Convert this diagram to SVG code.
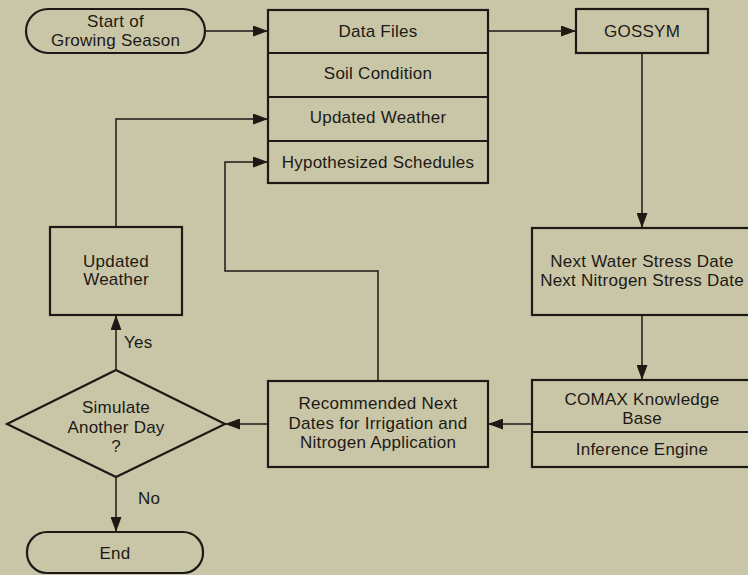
<svg xmlns="http://www.w3.org/2000/svg" width="748" height="575" viewBox="0 0 748 575">
  <style>
    .box { fill: none; stroke: #1d1915; stroke-width: 2.2; }
    .div { stroke: #1d1915; stroke-width: 1.8; }
    .wire { fill: none; stroke: #1d1915; stroke-width: 1.5; }
    text { font-family: "Liberation Sans", Arial, sans-serif; font-size: 17px; letter-spacing: 0.25px; fill: #1d1915; text-anchor: middle; }
    .lbl { text-anchor: start; }
  </style>
  <defs>
    <marker id="arrow" markerUnits="userSpaceOnUse" markerWidth="15" markerHeight="11" viewBox="0 0 15 11" refX="15" refY="5.5" orient="auto">
      <path d="M0,0 L15,5.5 L0,11 z" fill="#1d1915"/>
    </marker>
  </defs>

  <!-- page -->
  <rect x="0" y="0" width="748" height="575" fill="#c9c6a7"/>

  <!-- connectors -->
  <g id="connectors">
    <path class="wire" d="M205,31 H268" marker-end="url(#arrow)"/>
    <path class="wire" d="M488,31 H576" marker-end="url(#arrow)"/>
    <path class="wire" d="M642,53 V228" marker-end="url(#arrow)"/>
    <path class="wire" d="M642,315 V380" marker-end="url(#arrow)"/>
    <path class="wire" d="M532,424 H488" marker-end="url(#arrow)"/>
    <path class="wire" d="M268,424 H225" marker-end="url(#arrow)"/>
    <path class="wire" d="M116,370 V315" marker-end="url(#arrow)"/>
    <path class="wire" d="M116,477 V532" marker-end="url(#arrow)"/>
    <path class="wire" d="M116,227 V119 H268" marker-end="url(#arrow)"/>
    <path class="wire" d="M378,381 V271 H225 V162 H268" marker-end="url(#arrow)"/>
    <text class="lbl" x="124" y="348">Yes</text>
    <text class="lbl" x="138" y="504">No</text>
  </g>

  <!-- start terminal -->
  <g id="start">
    <rect class="box" x="26" y="9" width="179" height="44" rx="22" ry="22"/>
    <text x="115.5" y="27">Start of</text>
    <text x="115.5" y="46">Growing Season</text>
  </g>

  <!-- input data stack -->
  <g id="data-files">
    <rect class="box" x="268" y="10" width="220" height="173"/>
    <line class="div" x1="268" y1="53" x2="488" y2="53"/>
    <line class="div" x1="268" y1="97" x2="488" y2="97"/>
    <line class="div" x1="268" y1="141" x2="488" y2="141"/>
    <text x="378" y="37">Data Files</text>
    <text x="378" y="79">Soil Condition</text>
    <text x="378" y="123">Updated Weather</text>
    <text x="378" y="168">Hypothesized Schedules</text>
  </g>

  <!-- crop model -->
  <g id="gossym">
    <rect class="box" x="576" y="9" width="132" height="44"/>
    <text x="642" y="37">GOSSYM</text>
  </g>

  <!-- stress dates -->
  <g id="stress-dates">
    <rect class="box" x="532" y="228" width="230" height="87"/>
    <text x="642" y="267">Next Water Stress Date</text>
    <text x="642" y="286">Next Nitrogen Stress Date</text>
  </g>

  <!-- expert system -->
  <g id="comax">
    <rect class="box" x="532" y="380" width="230" height="87"/>
    <line class="div" x1="532" y1="432" x2="762" y2="432"/>
    <text x="642" y="405">COMAX Knowledge</text>
    <text x="642" y="424">Base</text>
    <text x="642" y="455">Inference Engine</text>
  </g>

  <!-- recommendations -->
  <g id="recommended">
    <rect class="box" x="268" y="381" width="220" height="86"/>
    <text x="378" y="409">Recommended Next</text>
    <text x="378" y="429">Dates for Irrigation and</text>
    <text x="378" y="448">Nitrogen Application</text>
  </g>

  <!-- decision -->
  <g id="simulate">
    <polygon class="box" points="116,370 225,424 116,477 7,424"/>
    <text x="116" y="413">Simulate</text>
    <text x="116" y="433">Another Day</text>
    <text x="116" y="452">?</text>
  </g>

  <!-- weather update -->
  <g id="updated-weather">
    <rect class="box" x="50" y="227" width="132" height="88"/>
    <text x="116" y="267">Updated</text>
    <text x="116" y="285">Weather</text>
  </g>

  <!-- end terminal -->
  <g id="end">
    <rect class="box" x="27" y="532" width="176" height="41" rx="20" ry="20"/>
    <text x="115" y="559">End</text>
  </g>
</svg>
